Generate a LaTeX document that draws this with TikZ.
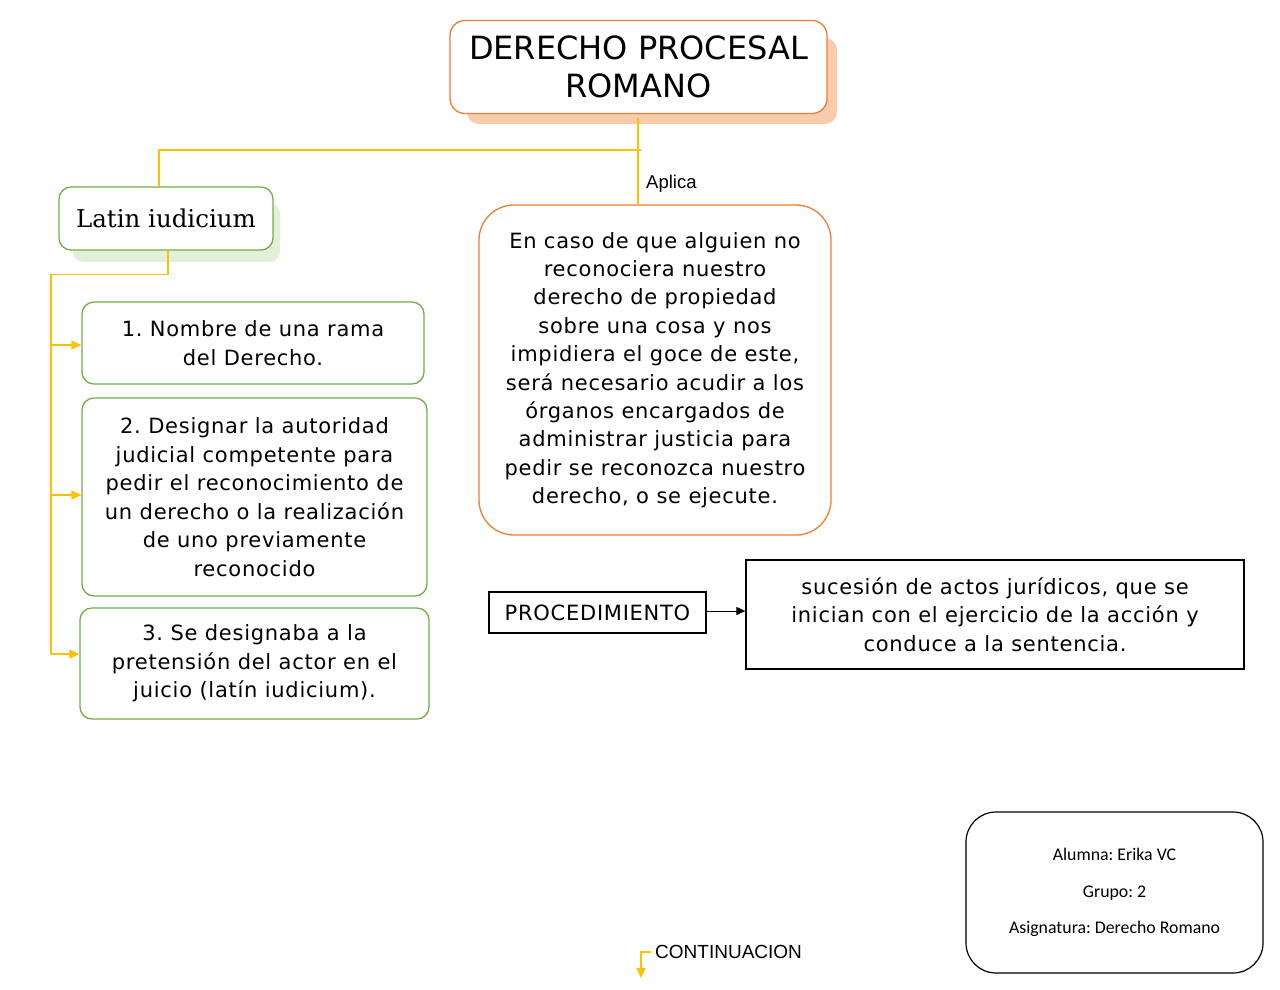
\documentclass[tikz,border=0pt]{standalone}
\usepackage{fontspec}
\setmainfont{DejaVu Sans}
\newfontfamily\letracaja{DejaVu Sans}[LetterSpace=3.5]
\newfontfamily\letraserif{DejaVu Serif}
\newfontfamily\letracal{Carlito}
\newfontfamily\letraarial{Liberation Sans}
\usetikzlibrary{arrows.meta}
\frenchspacing
\definecolor{naranja}{HTML}{ED7D31}
\definecolor{sombranar}{HTML}{F8CBAD}
\definecolor{verde}{HTML}{70AD47}
\definecolor{sombraver}{HTML}{E2EFDA}
\definecolor{amarillo}{HTML}{FFC000}
\tikzset{
  caja/.style={draw=verde,line width=1.3pt,rounded corners=12pt,align=center,inner sep=0pt,
    font=\letracaja\fontsize{21}{28.5}\selectfont},
  cajanar/.style={draw=naranja,line width=1.3pt,align=center,inner sep=0pt},
  cajanegra/.style={draw=black,line width=1.2pt,align=center,inner sep=0pt,
    font=\letracaja\fontsize{21}{28.5}\selectfont},
  conector/.style={amarillo,line width=1.2pt},
  flecha/.style={conector,-{Triangle[length=10pt,width=9pt]}}
}
\begin{document}
\begin{tikzpicture}[x=1pt,y=-1pt]
\useasboundingbox (0,0) rectangle (1280,989);
% sombras
\fill[sombranar,rounded corners=12pt] (467,38) rectangle (837,124);
\fill[sombraver,rounded corners=10pt] (73,203) rectangle (280,262);
% nodos
\node[cajanar,fill=white,rounded corners=15pt,minimum width=377pt,minimum height=93pt,
  font=\fontsize{32}{38}\selectfont] (titulo) at (638.5,67) {DERECHO PROCESAL\\ROMANO};
\node[caja,fill=white,minimum width=214pt,minimum height=63pt,
  font=\letraserif\fontsize{24.5}{30}\selectfont] (latin) at (166,218.5) {Latin iudicium};
\node[caja,minimum width=342pt,minimum height=82pt] (uno) at (253,343) {1. Nombre de una rama\\del Derecho.};
\node[caja,minimum width=345pt,minimum height=198pt] (dos) at (254.5,497)
  {2. Designar la autoridad\\judicial competente para\\pedir el reconocimiento de\\un derecho o la realización\\de uno previamente\\reconocido};
\node[caja,minimum width=349pt,minimum height=111pt] (tres) at (254.5,663.5)
  {3. Se designaba a la\\pretensión del actor en el\\juicio (latín iudicium).};
\node[cajanar,rounded corners=35pt,minimum width=352pt,minimum height=330pt,
  font=\letracaja\fontsize{21}{28.4}\selectfont] (caso) at (655,370)
  {En caso de que alguien no\\reconociera nuestro\\derecho de propiedad\\sobre una cosa y nos\\impidiera el goce de este,\\será necesario acudir a los\\órganos encargados de\\administrar justicia para\\pedir se reconozca nuestro\\derecho, o se ejecute.};
\node[cajanegra,minimum width=217pt,minimum height=41pt] (proc) at (597.5,612.5) {PROCEDIMIENTO};
\node[cajanegra,minimum width=498pt,minimum height=109pt] (suc) at (995,614.5)
  {sucesión de actos jurídicos, que se\\inician con el ejercicio de la acción y\\conduce a la sentencia.};
\node[cajanegra,rounded corners=30pt,minimum width=297pt,minimum height=161pt,
  font=\letracal\fontsize{17.8}{36.5}\selectfont] (datos) at (1114.5,892.5)
  {Alumna: Erika VC\\Grupo: 2\\Asignatura: Derecho Romano};
\node[anchor=west,inner sep=0pt,font=\letraarial\fontsize{18.5}{22}\selectfont] (aplica) at (646,184) {Aplica};
\node[anchor=west,inner sep=0pt,font=\letraarial\fontsize{19}{22}\selectfont] (contin) at (655,952) {CONTINUACION};
% conectores
\coordinate (salida) at (638,118);
\coordinate (rama) at (641,150);
\draw[conector] (salida) -- (caso.north -| salida);
\draw[conector] ([xshift=-7pt]latin.north) |- (rama);
\draw[conector] ([xshift=2pt]latin.south) -- ++(0,24) -| (51,654) coordinate (base);
\draw[flecha] (base |- 0,345) -- (uno.west |- 0,345);
\draw[flecha] (base |- 0,495) -- (dos.west |- 0,495);
\draw[flecha] (base) -- (tres.west |- base);
\draw[-{Triangle[length=9pt,width=8pt]},line width=0.8pt] (proc.east |- 0,611) -- (suc.west |- 0,611);
\draw[flecha] ([xshift=-4pt]contin.west) -| ++(-10,26);
\end{tikzpicture}
\end{document}
